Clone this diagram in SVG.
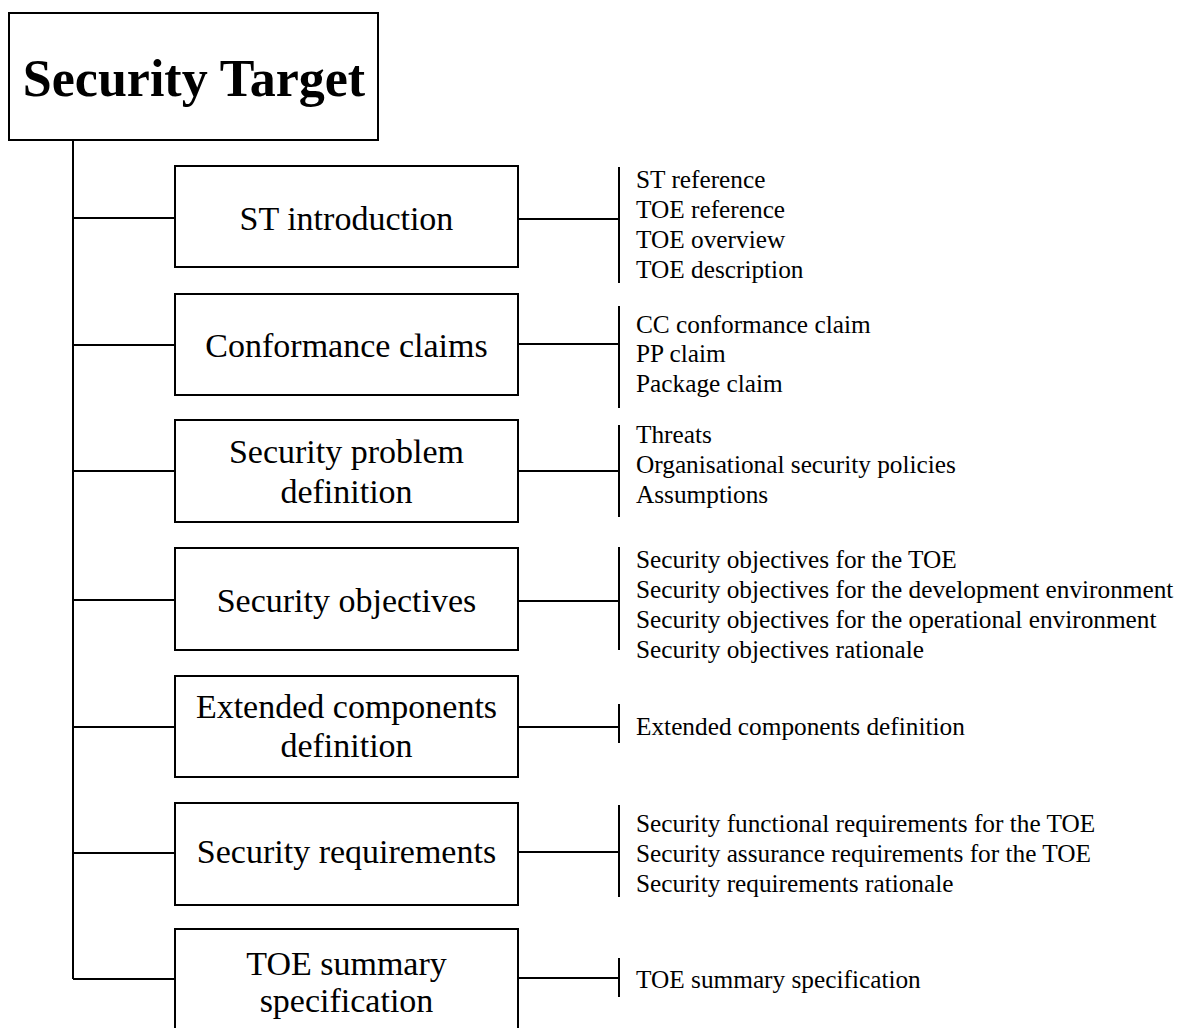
<svg xmlns="http://www.w3.org/2000/svg" width="1181" height="1028" viewBox="0 0 1181 1028">
<style>
.box{fill:#fff;stroke:#000;stroke-width:2}
.ln{stroke:#000;stroke-width:2;fill:none}
.t{font-family:"Liberation Serif","Times New Roman",serif;fill:#000}
.bt{font-size:34px;text-anchor:middle}
.it{font-size:25.3px}
.title{font-size:52px;font-weight:bold;text-anchor:middle}
</style>
<rect width="1181" height="1028" fill="#fff"/>
<g id="connectors">
<path class="ln" d="M73,140 V979"/>
<path class="ln" d="M73,218 H175 M73,345 H175 M73,471 H175 M73,600 H175 M73,727 H175 M73,853 H175 M73,979 H175"/>
<path class="ln" d="M518,219 H619 M518,344 H619 M518,471 H619 M518,601 H619 M518,727 H619 M518,852 H619 M518,978 H619"/>
<path class="ln" d="M619,167 V283 M619,306 V408 M619,425 V517 M619,547 V650 M619,704 V743 M619,805 V897 M619,958 V997"/>
</g>
<g id="security-target">
<rect class="box" x="9" y="13" width="369" height="127"/>
<text class="t title" x="194" y="96">Security Target</text>
</g>
<g id="st-introduction">
<rect class="box" x="175" y="166" width="343" height="101"/>
<text class="t bt" x="346.5" y="230">ST introduction</text>
</g>
<g id="st-introduction-items">
<text class="t it" x="636" y="188">ST reference</text>
<text class="t it" x="636" y="218">TOE reference</text>
<text class="t it" x="636" y="248">TOE overview</text>
<text class="t it" x="636" y="278">TOE description</text>
</g>
<g id="conformance-claims">
<rect class="box" x="175" y="294" width="343" height="101"/>
<text class="t bt" x="346.5" y="357">Conformance claims</text>
</g>
<g id="conformance-claims-items">
<text class="t it" x="636" y="333">CC conformance claim</text>
<text class="t it" x="636" y="362">PP claim</text>
<text class="t it" x="636" y="392">Package claim</text>
</g>
<g id="security-problem-definition">
<rect class="box" x="175" y="420" width="343" height="102"/>
<text class="t bt" x="346.5" y="463">Security problem</text>
<text class="t bt" x="346.5" y="503">definition</text>
</g>
<g id="security-problem-definition-items">
<text class="t it" x="636" y="443">Threats</text>
<text class="t it" x="636" y="473">Organisational security policies</text>
<text class="t it" x="636" y="503">Assumptions</text>
</g>
<g id="security-objectives">
<rect class="box" x="175" y="548" width="343" height="102"/>
<text class="t bt" x="346.5" y="612">Security objectives</text>
</g>
<g id="security-objectives-items">
<text class="t it" x="636" y="568">Security objectives for the TOE</text>
<text class="t it" x="636" y="598">Security objectives for the development environment</text>
<text class="t it" x="636" y="628">Security objectives for the operational environment</text>
<text class="t it" x="636" y="658">Security objectives rationale</text>
</g>
<g id="extended-components-definition">
<rect class="box" x="175" y="676" width="343" height="101"/>
<text class="t bt" x="346.5" y="718">Extended components</text>
<text class="t bt" x="346.5" y="757">definition</text>
</g>
<g id="extended-components-definition-items">
<text class="t it" x="636" y="735">Extended components definition</text>
</g>
<g id="security-requirements">
<rect class="box" x="175" y="803" width="343" height="102"/>
<text class="t bt" x="346.5" y="863">Security requirements</text>
</g>
<g id="security-requirements-items">
<text class="t it" x="636" y="832">Security functional requirements for the TOE</text>
<text class="t it" x="636" y="862">Security assurance requirements for the TOE</text>
<text class="t it" x="636" y="892">Security requirements rationale</text>
</g>
<g id="toe-summary-specification">
<rect class="box" x="175" y="929" width="343" height="110"/>
<text class="t bt" x="346.5" y="975">TOE summary</text>
<text class="t bt" x="346.5" y="1012">specification</text>
</g>
<g id="toe-summary-specification-items">
<text class="t it" x="636" y="988">TOE summary specification</text>
</g>
</svg>
